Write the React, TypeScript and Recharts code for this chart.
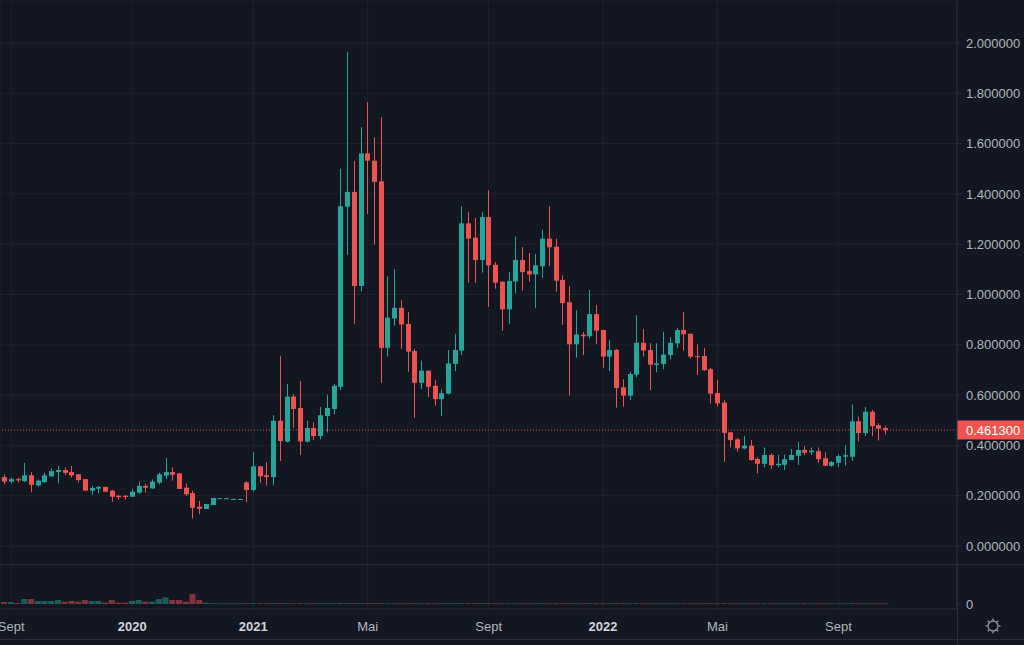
import React from "react";
import {
  ComposedChart,
  Bar,
  XAxis,
  YAxis,
  CartesianGrid,
  ReferenceLine,
} from "recharts";

// ---- data (weekly candles, index 0 .. 131) ----
const OPEN = [
  0.274, 0.256, 0.266, 0.258, 0.281, 0.241, 0.254, 0.277, 0.294, 0.302,
  0.294, 0.285, 0.266, 0.220, 0.228, 0.235, 0.220, 0.200, 0.200, 0.196,
  0.212, 0.239, 0.229, 0.252, 0.280, 0.294, 0.289, 0.232, 0.210, 0.156,
  0.147, 0.163, 0.190, 0.190, 0.187, 0.187, 0.253, 0.223, 0.317, 0.281,
  0.274, 0.498, 0.415, 0.594, 0.549, 0.415, 0.469, 0.437, 0.517, 0.545,
  0.633, 1.349, 1.408, 1.034, 1.561, 1.532, 1.450, 0.788, 0.905, 0.947,
  0.883, 0.775, 0.649, 0.697, 0.637, 0.584, 0.606, 0.724, 0.777, 1.283,
  1.226, 1.137, 1.308, 1.118, 1.051, 0.941, 1.052, 1.137, 1.093, 1.080,
  1.112, 1.222, 1.190, 1.058, 0.969, 0.802, 0.840, 0.834, 0.922, 0.859,
  0.753, 0.780, 0.631, 0.598, 0.681, 0.808, 0.779, 0.720, 0.724, 0.759,
  0.806, 0.859, 0.844, 0.755, 0.755, 0.703, 0.608, 0.570, 0.452, 0.424,
  0.388, 0.399, 0.346, 0.327, 0.362, 0.321, 0.323, 0.342, 0.359, 0.382,
  0.373, 0.377, 0.349, 0.319, 0.331, 0.355, 0.355, 0.496, 0.449, 0.534,
  0.480, 0.469,
];
const HIGH = [
  0.285, 0.272, 0.272, 0.331, 0.293, 0.265, 0.291, 0.309, 0.318, 0.313,
  0.318, 0.285, 0.266, 0.239, 0.239, 0.235, 0.223, 0.203, 0.203, 0.227,
  0.257, 0.247, 0.265, 0.291, 0.350, 0.313, 0.289, 0.249, 0.220, 0.179,
  0.167, 0.191, 0.191, 0.191, 0.188, 0.188, 0.257, 0.374, 0.317, 0.334,
  0.520, 0.755, 0.644, 0.604, 0.656, 0.498, 0.492, 0.553, 0.602, 0.644,
  1.500, 1.964, 1.532, 1.665, 1.765, 1.625, 1.705, 1.072, 1.101, 0.977,
  0.930, 0.783, 0.737, 0.697, 0.660, 0.623, 0.779, 0.844, 1.351, 1.328,
  1.304, 1.327, 1.415, 1.129, 1.051, 1.089, 1.230, 1.188, 1.165, 1.161,
  1.258, 1.351, 1.222, 1.076, 1.034, 0.938, 0.851, 1.018, 0.958, 0.859,
  0.819, 0.783, 0.663, 0.692, 0.918, 0.863, 0.806, 0.806, 0.851, 0.830,
  0.867, 0.930, 0.844, 0.802, 0.787, 0.708, 0.660, 0.580, 0.452, 0.429,
  0.437, 0.421, 0.353, 0.392, 0.369, 0.363, 0.363, 0.386, 0.414, 0.398,
  0.392, 0.392, 0.373, 0.338, 0.365, 0.402, 0.563, 0.514, 0.553, 0.541,
  0.488, 0.478,
];
const LOW = [
  0.245, 0.249, 0.252, 0.254, 0.214, 0.236, 0.252, 0.276, 0.249, 0.283,
  0.272, 0.252, 0.220, 0.203, 0.210, 0.216, 0.176, 0.183, 0.184, 0.195,
  0.207, 0.212, 0.227, 0.245, 0.266, 0.260, 0.227, 0.199, 0.109, 0.127,
  0.147, 0.163, 0.189, 0.189, 0.186, 0.186, 0.174, 0.216, 0.252, 0.240,
  0.241, 0.338, 0.412, 0.470, 0.362, 0.412, 0.421, 0.424, 0.452, 0.524,
  0.620, 1.158, 0.884, 1.013, 1.320, 1.198, 0.649, 0.753, 0.876, 0.784,
  0.693, 0.510, 0.624, 0.591, 0.558, 0.517, 0.603, 0.695, 0.759, 1.047,
  1.047, 1.087, 0.951, 1.023, 0.856, 0.884, 1.005, 1.015, 1.051, 0.947,
  1.066, 1.114, 1.011, 0.880, 0.598, 0.749, 0.759, 0.826, 0.802, 0.709,
  0.696, 0.550, 0.554, 0.581, 0.671, 0.753, 0.620, 0.691, 0.703, 0.742,
  0.788, 0.777, 0.745, 0.680, 0.696, 0.567, 0.555, 0.335, 0.392, 0.375,
  0.384, 0.339, 0.289, 0.313, 0.306, 0.313, 0.302, 0.342, 0.322, 0.362,
  0.362, 0.331, 0.319, 0.315, 0.313, 0.319, 0.339, 0.416, 0.437, 0.437,
  0.419, 0.443,
];
const CLOSE = [
  0.256, 0.266, 0.261, 0.281, 0.243, 0.260, 0.281, 0.298, 0.302, 0.291,
  0.281, 0.262, 0.220, 0.231, 0.235, 0.216, 0.196, 0.194, 0.195, 0.216,
  0.239, 0.232, 0.256, 0.285, 0.294, 0.283, 0.227, 0.206, 0.152, 0.148,
  0.167, 0.191, 0.190, 0.190, 0.187, 0.187, 0.223, 0.317, 0.277, 0.274,
  0.498, 0.417, 0.594, 0.545, 0.416, 0.469, 0.437, 0.520, 0.549, 0.637,
  1.351, 1.408, 1.034, 1.561, 1.532, 1.448, 0.788, 0.908, 0.947, 0.881,
  0.773, 0.649, 0.697, 0.633, 0.584, 0.608, 0.726, 0.779, 1.283, 1.222,
  1.137, 1.308, 1.116, 1.047, 0.941, 1.054, 1.137, 1.089, 1.080, 1.116,
  1.222, 1.188, 1.055, 0.966, 0.802, 0.841, 0.834, 0.922, 0.856, 0.753,
  0.779, 0.628, 0.598, 0.684, 0.808, 0.777, 0.721, 0.726, 0.761, 0.808,
  0.859, 0.842, 0.753, 0.751, 0.699, 0.606, 0.567, 0.450, 0.421, 0.388,
  0.399, 0.342, 0.327, 0.362, 0.321, 0.327, 0.345, 0.362, 0.382, 0.371,
  0.379, 0.345, 0.319, 0.334, 0.358, 0.361, 0.496, 0.449, 0.534, 0.477,
  0.466, 0.4613,
];
const VOLUME = [
  20, 20, 10, 50, 50, 30, 30, 30, 40, 23,
  30, 23, 40, 30, 30, 13, 40, 13, 13, 30,
  40, 23, 23, 50, 67, 40, 40, 23, 97, 40,
  13, 7, 6, 6, 6, 6, 7, 8, 7, 6,
  8, 7, 7, 6, 7, 6, 6, 7, 6, 7,
  8, 8, 7, 7, 7, 7, 8, 6, 6, 6,
  6, 7, 6, 6, 6, 6, 7, 6, 8, 7,
  7, 7, 7, 6, 6, 6, 6, 6, 6, 6,
  7, 6, 6, 6, 7, 6, 6, 7, 6, 6,
  6, 7, 6, 6, 7, 6, 6, 6, 6, 6,
  6, 6, 6, 6, 6, 7, 6, 7, 6, 6,
  6, 6, 6, 6, 6, 6, 6, 6, 6, 6,
  6, 6, 6, 6, 6, 6, 7, 6, 6, 6,
  6, 6,
];
const LAST_PRICE = 0.4613;
const TIME_TICK_INDEX = [1, 19, 37, 54, 72, 89, 106, 124];
const TIME_TICK_LABELS = ["Sept", "2020", "2021", "Mai", "Sept", "2022", "Mai", "Sept"];
const PRICE_TICKS = [0, 0.2, 0.4, 0.6, 0.8, 1.0, 1.2, 1.4, 1.6, 1.8, 2.0];

const data = OPEN.map((o, i) => ({
  i,
  open: o,
  high: HIGH[i],
  low: LOW[i],
  close: CLOSE[i],
  range: [LOW[i], HIGH[i]],
  vol: VOLUME[i],
}));

// ---- style ----
const BG = "#131722";
const GRID = "#1e222d";
const SEP = "#2a2e39";
const UP = "#26a69a";
const DOWN = "#ef5350";
const UP_VOL = "rgba(38,166,154,0.5)";
const DOWN_VOL = "rgba(239,83,80,0.5)";
const TEXT = "#b2b5be";
const FONT = "'Liberation Sans', Arial, sans-serif";
const X_DOMAIN: [number, number] = [-0.669, 141.63];

const Candle = (props: any) => {
  const { x, y, width, height, payload } = props;
  if (payload == null || x == null || y == null) return null;
  const { open, close, high, low } = payload;
  const color = close >= open ? UP : DOWN;
  const h = Math.abs(height || 0);
  const yTop = (height || 0) < 0 ? y + height : y;
  const span = high - low;
  const ppu = span > 0 ? h / span : 0;
  const yO = yTop + (high - open) * ppu;
  const yC = yTop + (high - close) * ppu;
  const bodyTop = Math.min(yO, yC);
  const bodyH = Math.max(1, Math.abs(yO - yC));
  const cx = Math.round(x + width / 2 - 0.5) + 0.5;
  return (
    <g>
      <line x1={cx} x2={cx} y1={yTop} y2={yTop + Math.max(h, 1)} stroke={color} strokeWidth={1} />
      <rect x={cx - 2.5} y={bodyTop} width={5} height={bodyH} fill={color} />
    </g>
  );
};

const VolBar = (props: any) => {
  const { x, y, width, height, payload } = props;
  if (payload == null || x == null) return null;
  const color = payload.close >= payload.open ? UP_VOL : DOWN_VOL;
  const h = Math.abs(height || 0);
  const yTop = (height || 0) < 0 ? y + height : y;
  return <rect x={x} y={yTop} width={width} height={Math.max(h, 0.7)} fill={color} />;
};

const PriceTag = (props: any) => {
  const vb = props.viewBox || {};
  const yy = vb.y ?? 0;
  const left = (vb.x ?? 0) + (vb.width ?? 0);
  return (
    <g>
      <rect x={left} y={yy - 9.5} width={67} height={19} fill={DOWN} />
      <text x={left + 9} y={yy + 4.6} fill="#ffffff" fontSize={13} fontFamily={FONT}>
        {LAST_PRICE.toFixed(6)}
      </text>
    </g>
  );
};

const TimeTick = (props: any) => {
  const { x, payload } = props;
  const k = TIME_TICK_INDEX.indexOf(payload.value);
  const label = k >= 0 ? TIME_TICK_LABELS[k] : "";
  const isYear = /^\d{4}$/.test(label);
  return (
    <text
      x={x}
      y={66}
      textAnchor="middle"
      fill={isYear ? "#d1d4dc" : TEXT}
      fontWeight={isYear ? 700 : 400}
      fontSize={13}
      fontFamily={FONT}
    >
      {label}
    </text>
  );
};

const Gear = () => (
  <svg width={20} height={20} style={{ position: "absolute", left: 983, top: 616 }}>
    <circle cx={10} cy={10} r={5} fill="none" stroke="#9598a1" strokeWidth={1.3} />
    {[0, 45, 90, 135, 180, 225, 270, 315].map((a) => {
      const r = (a * Math.PI) / 180;
      return (
        <line
          key={a}
          x1={10 + Math.cos(r) * 5.5}
          y1={10 + Math.sin(r) * 5.5}
          x2={10 + Math.cos(r) * 7.5}
          y2={10 + Math.sin(r) * 7.5}
          stroke="#9598a1"
          strokeWidth={1.3}
        />
      );
    })}
  </svg>
);

export default function App() {
  return (
    <div
      style={{
        position: "absolute",
        left: 0,
        top: 0,
        width: 1024,
        height: 645,
        background: BG,
        overflow: "hidden",
        fontFamily: FONT,
      }}
    >
      <div style={{ position: "absolute", left: 0, top: 0 }}>
        <ComposedChart width={1024} height={565} data={data} margin={{ top: 0, right: 0, bottom: 0, left: 0 }}>
          <CartesianGrid stroke={GRID} strokeWidth={1} />
          <XAxis
            dataKey="i"
            type="number"
            domain={X_DOMAIN}
            allowDataOverflow
            ticks={TIME_TICK_INDEX}
            hide
          />
          <YAxis
            orientation="right"
            width={67}
            type="number"
            domain={[-0.0755, 2.171]}
            allowDataOverflow
            ticks={PRICE_TICKS}
            tickFormatter={(v: number) => v.toFixed(6)}
            tick={{ fill: TEXT, fontSize: 13, fontFamily: FONT }}
            axisLine={{ stroke: SEP }}
            tickLine={{ stroke: SEP }}
            tickSize={5}
            tickMargin={4}
            interval={0}
          />
          <ReferenceLine
            y={LAST_PRICE}
            stroke={DOWN}
            strokeDasharray="1 2"
            strokeWidth={1}
            label={(p: any) => <PriceTag {...p} />}
          />
          <Bar dataKey="range" barSize={5} shape={<Candle />} isAnimationActive={false} />
        </ComposedChart>
      </div>
      <div style={{ position: "absolute", left: 0, top: 565 }}>
        <ComposedChart width={1024} height={80} data={data} margin={{ top: 0, right: 0, bottom: 0, left: 0 }}>
          <CartesianGrid stroke={GRID} horizontal={false} />
          <XAxis
            dataKey="i"
            type="number"
            domain={X_DOMAIN}
            allowDataOverflow
            ticks={TIME_TICK_INDEX}
            interval={0}
            height={36}
            tick={<TimeTick />}
            tickLine={false}
            axisLine={{ stroke: SEP }}
          />
          <YAxis
            orientation="right"
            width={67}
            type="number"
            domain={[-50, 390]}
            allowDataOverflow
            ticks={[0]}
            tickFormatter={() => "0"}
            tick={{ fill: TEXT, fontSize: 13, fontFamily: FONT }}
            axisLine={{ stroke: SEP }}
            tickLine={{ stroke: SEP }}
            tickSize={5}
            tickMargin={4}
          />
          <Bar dataKey="vol" barSize={6} shape={<VolBar />} isAnimationActive={false} />
        </ComposedChart>
      </div>
      <div style={{ position: "absolute", left: 0, top: 564, width: 1024, height: 1, background: SEP }} />
      <div style={{ position: "absolute", left: 0, top: 639, width: 1024, height: 1, background: SEP }} />
      <div style={{ position: "absolute", left: 957, top: 565, width: 1, height: 80, background: SEP }} />
      <Gear />
    </div>
  );
}
